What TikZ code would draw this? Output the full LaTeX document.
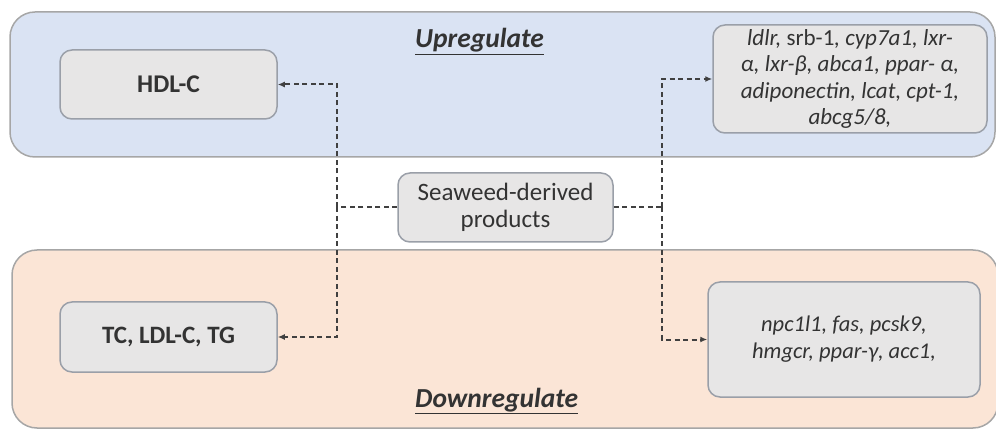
\documentclass[tikz,border=0pt]{standalone}
\usepackage{fontspec}
\setmainfont{Carlito}
\usetikzlibrary{arrows.meta}
\definecolor{panelblue}{HTML}{DAE3F3}
\definecolor{panelorange}{HTML}{FBE5D6}
\definecolor{panelborder}{HTML}{A6A6A6}
\definecolor{boxfill}{HTML}{E7E6E6}
\definecolor{boxborder}{HTML}{9A9FA8}
\definecolor{txt}{HTML}{333333}
\definecolor{linecol}{HTML}{404040}
\tikzset{
  panel/.style={draw=panelborder, line width=1.5pt, rounded corners=25pt},
  gbox/.style={draw=boxborder, fill=boxfill, line width=1.5pt, rounded corners=12pt,
    inner sep=0pt, text=txt, align=center},
  conn/.style={draw=linecol, line width=2pt, dash pattern=on 5pt off 3.5pt},
  arr/.style={conn, -{Latex[length=7pt,width=6pt]}},
  heading/.style={text=txt, font=\fontsize{27.5}{30}\selectfont\bfseries\itshape, inner sep=0pt, anchor=base west}
}
\begin{document}
\begin{tikzpicture}[x=1pt,y=-1pt]
\useasboundingbox (0,0) rectangle (996,430);
% panels
\draw[panel, fill=panelblue] (10,12) rectangle (995,157);
\draw[panel, fill=panelorange] (12,250) rectangle (998,428);
% headings
\node[heading] (uph) at (415,48) {\underline{Upregulate}};
\node[heading] (dnh) at (415,407) {\underline{Downregulate}};
% boxes
\node[gbox, minimum width=217pt, minimum height=69pt, font=\fontsize{25.5}{28}\selectfont\bfseries] (hdl) at (168.5,84.5) {HDL-C};
\node[gbox, minimum width=217pt, minimum height=70pt, font=\fontsize{25}{28}\selectfont\bfseries] (tc) at (168.5,337) {TC, LDL-C, TG};
\node[gbox, minimum width=215pt, minimum height=69pt, font=\fontsize{25}{27}\selectfont] (sw) at (505.5,207.5) {Seaweed-derived\\products};
\node[gbox, minimum width=274pt, minimum height=108pt, font=\fontsize{23}{26.5}\selectfont\itshape] (up) at (850,79)
  {ldlr, \textup{srb-1}, cyp7a1, lxr-\\α, lxr-β, abca1, ppar- α,\\adiponectin, lcat, cpt-1,\\abcg5/8,};
\node[gbox, minimum width=272pt, minimum height=115pt, font=\fontsize{22.5}{27}\selectfont\itshape] (dn) at (844,339.5)
  {npc1l1, fas, pcsk9,\\hmgcr, ppar-γ, acc1,};
% connectors
\coordinate (L) at (337,207.5);
\coordinate (R) at (662,207.5);
\draw[conn] (sw.west) -- (L);
\draw[conn] (sw.east) -- (R);
\draw[arr] (L) |- (hdl.east);
\draw[arr] (L) |- (tc.east);
\draw[arr] (R) |- (up.west);
\draw[arr] (R) |- (dn.west);
\end{tikzpicture}
\end{document}
